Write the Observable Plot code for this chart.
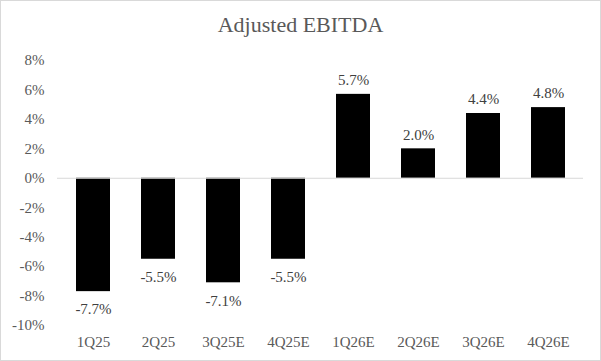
<!DOCTYPE html>
<html>
<head>
<meta charset="utf-8">
<script src="https://cdn.jsdelivr.net/npm/d3@7"></script>
<script src="https://cdn.jsdelivr.net/npm/@observablehq/plot@0.6"></script>
<style>
  html, body { margin: 0; padding: 0; background: #fff; }
  #wrap { position: relative; width: 601px; height: 361px; overflow: hidden; }
  #title { position: absolute; left: 0; top: 12px; width: 601px; text-align: center;
    font-family: "Liberation Serif", "Times New Roman", serif; font-size: 22px; color: #595959; line-height: 26px; }
  #border { position: absolute; left: 0; top: 0; width: 601px; height: 361px; box-sizing: border-box;
    border: 1px solid #d9d9d9; pointer-events: none; }
  #chart { position: absolute; left: 0; top: 0; }
</style>
</head>
<body>
<div id="wrap">
  <div id="chart"></div>
  <div id="title">Adjusted EBITDA</div>
  <div id="border"></div>
</div>
<script>
const categories = ["1Q25", "2Q25", "3Q25E", "4Q25E", "1Q26E", "2Q26E", "3Q26E", "4Q26E"];
const values = [-7.7, -5.5, -7.1, -5.5, 5.7, 2.0, 4.4, 4.8];
const yTicks = [-10, -8, -6, -4, -2, 0, 2, 4, 6, 8];

const data = categories.map((c, i) => ({ cat: c, v: values[i] }));
const fmt = v => (v < 0 ? "-" : "") + Math.abs(v).toFixed(1) + "%";

const plot = Plot.plot({
  width: 601,
  height: 361,
  marginTop: 60,
  marginBottom: 36,
  marginLeft: 57,
  marginRight: 18,
  style: { fontFamily: "'Liberation Serif', 'Times New Roman', serif", fontSize: "15px", background: "transparent" },
  x: { domain: categories, paddingInner: 0.48, paddingOuter: 0.24, label: null },
  y: { domain: [-10, 8], label: null },
  marks: [
    Plot.axisY({ ticks: yTicks, tickSize: 0, tickPadding: 13, tickFormat: d => d + "%", fill: "#595959", fontSize: 15, label: null }),
    Plot.axisX({ tickSize: 0, tickPadding: 11, fill: "#595959", fontSize: 15, label: null }),
    Plot.barY(data, { x: "cat", y: "v", fill: "#000" }),
    Plot.ruleY([0], { stroke: "#d9d9d9", strokeWidth: 1 }),
    Plot.text(data.filter(d => d.v >= 0), { x: "cat", y: "v", text: d => fmt(d.v), dy: -14, fill: "#404040", fontSize: 15 }),
    Plot.text(data.filter(d => d.v < 0), { x: "cat", y: "v", text: d => fmt(d.v), dy: 18, fill: "#404040", fontSize: 15 })
  ]
});
document.getElementById("chart").appendChild(plot);
</script>
</body>
</html>
